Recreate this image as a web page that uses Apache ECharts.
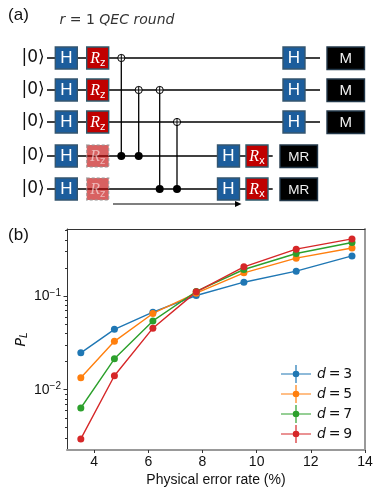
<!DOCTYPE html>
<html lang="en">
<head>
    <meta charset="UTF-8">
    <title>QEC round circuit and logical error rate</title>
    <script src="https://cdnjs.cloudflare.com/ajax/libs/echarts/6.0.0/echarts.min.js"></script>
    <style>
        * { margin: 0; padding: 0; box-sizing: border-box; }
        body { background: #fff; }
        #chart { width: 382px; height: 492px; }
    </style>
</head>
<body>
    <div id="chart"></div>
    <script>
        // data
        const errorRates = [3.51, 4.75, 6.17, 7.77, 9.53, 11.46, 13.52];
        const d3 = [0.0248, 0.0442, 0.0675, 0.1017, 0.141, 0.185, 0.269];
        const d5 = [0.01343, 0.0329, 0.0653, 0.1076, 0.1774, 0.2547, 0.3275];
        const d7 = [0.00638, 0.0214, 0.0544, 0.1122, 0.1927, 0.2858, 0.374];
        const d9 = [0.00298, 0.0141, 0.0455, 0.1112, 0.2056, 0.3177, 0.4093];
        const seriesNames = ['d = 3', 'd = 5', 'd = 7', 'd = 9'];
        const seriesColors = ['#1f77b4', '#ff7f0e', '#2ca02c', '#d62728'];
        const xTicks = [4, 6, 8, 10, 12, 14];
        const yTicks = [0.01, 0.1];
        const yMinorTicks = [0.003, 0.004, 0.005, 0.006, 0.007, 0.008, 0.009,
            0.02, 0.03, 0.04, 0.05, 0.06, 0.07, 0.08, 0.09, 0.2, 0.3, 0.4, 0.5];

        // circuit layout, in page pixels
        const wireY = [58, 90, 122, 156, 189];
        const cnots = [[121.3, 0, 3], [138.7, 1, 3], [159.7, 1, 4], [177, 2, 4]];

        const sans = '"Liberation Sans", Arial, sans-serif';
        const dejavu = '"DejaVu Sans", sans-serif';
        const serif = '"Liberation Serif", serif';
        const gfx = [];

        function line(x1, y1, x2, y2, width, z) {
            gfx.push({ type: 'line', silent: true, z: z || 1, shape: { x1, y1, x2, y2 },
                style: { stroke: '#000', lineWidth: width || 1.3 } });
        }
        function box(x, y, w, h, fill, stroke, dash, opacity) {
            gfx.push({ type: 'rect', silent: true, z: 3, shape: { x, y, width: w, height: h },
                style: { fill, stroke, lineWidth: 1.4, lineDash: dash ? [3, 2] : null, opacity: opacity || 1 } });
        }
        function label(x, y, text, font, size, color, extra) {
            gfx.push({ type: 'text', silent: true, z: 4, x, y, style: Object.assign({
                text, fontFamily: font, fontSize: size, fill: color, align: 'center', verticalAlign: 'middle'
            }, extra || {}) });
        }
        function hGate(x, y) {
            box(x, y - 11, 22, 22, '#1c5d9c', '#34566f');
            label(x + 11, y + 0.5, 'H', sans, 17, '#fff');
        }
        function rGate(x, y, sub, faded) {
            box(x, y - 11, 22, 22, faded ? 'rgba(192,0,0,0.62)' : '#c00000',
                faded ? 'rgba(150,150,150,0.7)' : '#2e5a6b', faded);
            label(x + 11, y + 1, '{r|R}{s|' + sub + '}', serif, 16, '#fff', {
                opacity: faded ? 0.55 : 1,
                rich: {
                    r: { fontFamily: serif, fontStyle: 'italic', fontSize: 16, fill: '#fff', lineHeight: 18 },
                    s: { fontFamily: dejavu, fontSize: 10, fill: '#fff', verticalAlign: 'bottom', lineHeight: 18 }
                }
            });
        }
        function readout(x, y, text, w) {
            box(x, y - 11, w, 22.5, '#000', '#23384a');
            label(x + w / 2, y + 1, text, sans, text === 'M' ? 15 : 13.5, '#f0f0f0');
        }

        // wires
        wireY.forEach((y, i) => {
            line(47, y, i < 3 ? 320 : 272.7, y);
            label(33, y - 0.5, '|0⟩', dejavu, 17, '#111');
            hGate(55.3, y);
            rGate(86.7, y, 'z', i >= 3);
            if (i < 3) {
                hGate(283, y);
                readout(327, y, 'M', 37.5);
            } else {
                hGate(217.5, y);
                rGate(246, y, 'x', false);
                readout(280, y, 'MR', 37.5);
            }
        });

        // CNOT gates
        cnots.forEach(([x, target, control]) => {
            line(x, wireY[target], x, wireY[control]);
            gfx.push({ type: 'circle', silent: true, z: 2, shape: { cx: x, cy: wireY[target], r: 3.6 },
                style: { fill: '#fff', stroke: '#000', lineWidth: 1 } });
            line(x - 3.6, wireY[target], x + 3.6, wireY[target], 1, 3);
            line(x, wireY[target] - 3.6, x, wireY[target] + 3.6, 1, 3);
            gfx.push({ type: 'circle', silent: true, z: 2, shape: { cx: x, cy: wireY[control], r: 4 },
                style: { fill: '#000' } });
        });

        // time arrow
        line(113, 204, 236, 204, 1.2);
        gfx.push({ type: 'polygon', silent: true, z: 2, shape: { points: [[235, 201], [241.5, 204], [235, 207]] },
            style: { fill: '#000' } });

        // panel titles
        label(18.5, 15, '(a)', sans, 17, '#111');
        label(18.5, 235, '(b)', sans, 17, '#111');
        label(117, 20, '{i|r} = 1 {i|QEC round}', dejavu, 14, '#333', {
            rich: { i: { fontFamily: dejavu, fontStyle: 'italic', fontSize: 14, fill: '#333' } }
        });

        const toPairs = vals => vals.map((v, i) => [errorRates[i], v]);
        const legendIcon = 'path://M0 8.5H11.7V9.5H0Z M18.3 8.5H30V9.5H18.3Z M14.4 0H15.6V5.7H14.4Z M14.4 12.3H15.6V18H14.4Z M15 5.7A3.3 3.3 0 1 0 15.01 5.7Z';
        const tickFont = { fontFamily: sans, fontSize: 14, color: '#111' };

        const chart = echarts.init(document.getElementById('chart'));
        chart.setOption({
            animation: false,
            backgroundColor: '#fff',
            graphic: gfx,
            grid: { left: 67, right: 17, top: 229, bottom: 42 },
            legend: {
                orient: 'vertical',
                left: 276,
                top: 360,
                itemWidth: 30,
                itemHeight: 18,
                itemGap: 2,
                icon: legendIcon,
                data: seriesNames,
                formatter: name => '{i|d}' + name.slice(1).replace(/ /g, '\u2009'),
                textStyle: {
                    fontFamily: dejavu, fontSize: 14, color: '#111', padding: [0, 0, 0, 1],
                    rich: { i: { fontFamily: dejavu, fontStyle: 'italic', fontSize: 14, color: '#111' } }
                }
            },
            xAxis: [
                {
                    type: 'value', min: 3, max: 14, position: 'bottom',
                    name: 'Physical error rate (%)', nameLocation: 'middle', nameGap: 23,
                    nameTextStyle: { fontFamily: sans, fontSize: 14, color: '#111' },
                    axisLine: { show: true, onZero: false, lineStyle: { color: '#999', width: 2 } },
                    axisTick: { show: true, length: 3, customValues: xTicks, lineStyle: { color: '#333', width: 1 } },
                    axisLabel: Object.assign({ customValues: xTicks, margin: 5 }, tickFont),
                    splitLine: { show: false }
                },
                {
                    type: 'value', min: 3, max: 14, position: 'top',
                    axisLine: { show: true, onZero: false, lineStyle: { color: '#333', width: 1 } },
                    axisTick: { show: false }, axisLabel: { show: false }, splitLine: { show: false }
                }
            ],
            yAxis: [
                {
                    type: 'log', logBase: 10, min: 0.00227, max: 0.522, position: 'left',
                    name: '{p|P}{l|L}', nameLocation: 'middle', nameGap: 38, nameRotate: 90,
                    nameMoveOverlap: false,
                    nameTextStyle: {
                        rich: {
                            p: { fontFamily: dejavu, fontStyle: 'italic', fontSize: 14, color: '#111' },
                            l: { fontFamily: dejavu, fontStyle: 'italic', fontSize: 10, color: '#111', verticalAlign: 'bottom', lineHeight: 16 }
                        }
                    },
                    axisLine: { show: true, onZero: false, lineStyle: { color: '#333', width: 1 } },
                    axisTick: { show: true, length: 3.5, customValues: yTicks, lineStyle: { color: '#333', width: 1 } },
                    axisLabel: {
                        customValues: yTicks, margin: 6,
                        formatter: v => '{b|10}{e|−' + Math.round(-Math.log10(v)) + '}',
                        rich: {
                            b: { fontFamily: sans, fontSize: 14, color: '#111', lineHeight: 16 },
                            e: { fontFamily: sans, fontSize: 10, color: '#111', verticalAlign: 'top', lineHeight: 16 }
                        }
                    },
                    splitLine: { show: false }
                },
                {
                    type: 'log', logBase: 10, min: 0.00227, max: 0.522, position: 'right',
                    axisLine: { show: true, onZero: false, lineStyle: { color: '#999', width: 2 } },
                    axisTick: { show: false }, axisLabel: { show: false }, splitLine: { show: false }
                },
                {
                    type: 'log', logBase: 10, min: 0.00227, max: 0.522, position: 'left',
                    axisLine: { show: false },
                    axisTick: { show: true, length: 2, customValues: yMinorTicks, lineStyle: { color: '#333', width: 1 } },
                    axisLabel: { show: false }, splitLine: { show: false }
                }
            ],
            series: [d3, d5, d7, d9].map((vals, i) => ({
                name: seriesNames[i],
                type: 'line',
                data: toPairs(vals),
                symbol: 'circle',
                symbolSize: 7,
                showAllSymbol: true,
                itemStyle: { color: seriesColors[i] },
                lineStyle: { color: seriesColors[i], width: 1.4 },
                emphasis: { disabled: true }
            }))
        });
    </script>
</body>
</html>
